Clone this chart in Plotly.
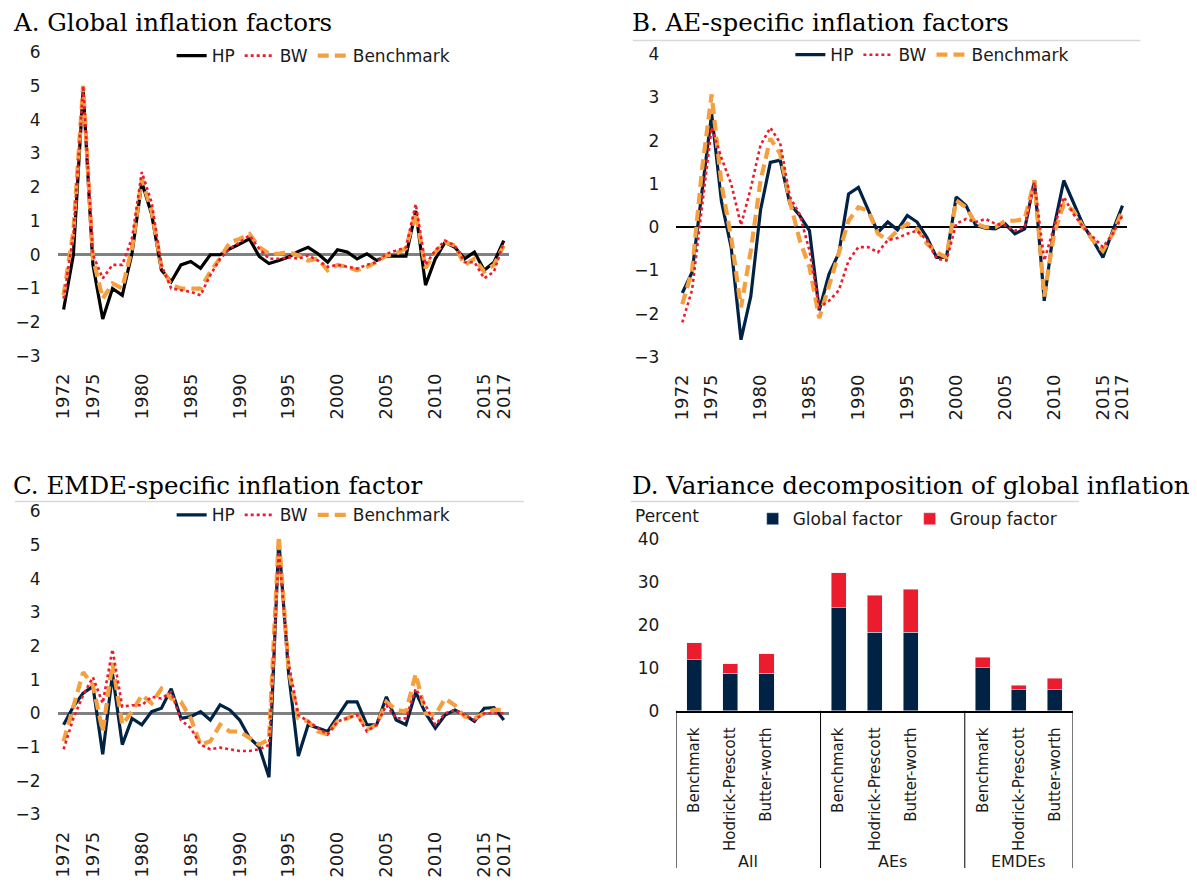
import plotly.graph_objects as go

# The page body has an 8px margin: build the figure in page pixels and shift.
OFF = 8
W, H = 1197 - 2 * OFF, 886 - 2 * OFF
def fx(px): return (px - OFF) / W
def fy(py): return 1 - (py - OFF) / H

years = list(range(1972, 2018))
year_ticks = [1972, 1975, 1980, 1985, 1990, 1995, 2000, 2005, 2010, 2015, 2017]

# Panel A: Global inflation factors
a_hp = [-1.62, 0.0, 4.9, -0.3, -1.9, -1.0, -1.2, 0.05, 2.15, 1.2,
        -0.45, -0.8, -0.3, -0.2, -0.4, 0.0, 0.0, 0.18, 0.32, 0.47,
        -0.05, -0.26, -0.17, -0.07, 0.1, 0.22, 0.03, -0.22, 0.15, 0.08,
        -0.12, 0.03, -0.17, -0.04, -0.04, -0.04, 1.3, -0.9, -0.12, 0.37,
        0.22, -0.12, 0.08, -0.46, -0.22, 0.42]
a_bw = [-1.3, 0.6, 5.0, 0.0, -0.7, -0.3, -0.3, 0.5, 2.45, 1.55,
        -0.3, -1.0, -1.05, -1.1, -1.2, -0.6, -0.12, 0.18, 0.37, 0.57,
        0.18, -0.12, -0.12, -0.07, -0.12, -0.02, -0.17, -0.36, -0.3, -0.36,
        -0.41, -0.3, -0.22, 0.03, 0.12, 0.22, 1.5, -0.3, 0.13, 0.42,
        0.27, -0.22, -0.22, -0.7, -0.5, 0.37]
a_bench = [-1.2, 0.7, 5.0, -0.1, -1.3, -0.85, -1.0, 0.2, 2.25, 1.3,
           -0.35, -0.9, -1.0, -1.0, -1.0, -0.5, -0.1, 0.37, 0.47, 0.62,
           0.22, 0.03, 0.03, 0.08, -0.02, -0.17, -0.12, -0.46, -0.3, -0.36,
           -0.46, -0.36, -0.22, -0.02, 0.03, 0.2, 1.25, -0.4, 0.08, 0.37,
           0.27, -0.3, -0.12, -0.5, -0.3, 0.27]

# Panel B: AE-specific inflation factors
b_hp = [-1.52, -1.04, 0.8, 2.62, 0.6, -0.47, -2.6, -1.6, 0.4, 1.5,
        1.55, 0.54, 0.27, -0.08, -1.92, -1.08, -0.6, 0.77, 0.92, 0.38,
        -0.12, 0.12, -0.06, 0.27, 0.12, -0.23, -0.7, -0.7, 0.7, 0.5,
        0.04, -0.02, -0.04, 0.08, -0.15, -0.04, 1.08, -1.7, 0.0, 1.08,
        0.54, 0.04, -0.31, -0.7, -0.08, 0.5]
b_bw = [-2.2, -1.45, 0.45, 2.3, 1.6, 1.0, 0.05, 0.9, 1.9, 2.3,
        1.95, 0.7, 0.3, -0.54, -1.85, -1.7, -1.46, -0.77, -0.46, -0.46,
        -0.58, -0.3, -0.25, -0.15, -0.08, -0.3, -0.73, -0.77, 0.08, 0.19,
        0.12, 0.19, 0.08, 0.04, -0.08, 0.0, 1.04, -0.77, 0.0, 0.7,
        0.3, 0.0, -0.23, -0.46, -0.15, 0.27]
b_bench = [-1.78, -1.0, 1.3, 3.07, 1.0, -0.24, -1.85, -0.55, 1.08, 2.05,
           1.7, 0.6, -0.3, -0.92, -2.1, -1.38, -0.6, 0.15, 0.46, 0.38,
           -0.15, -0.3, -0.08, 0.08, -0.04, -0.38, -0.58, -0.7, 0.62, 0.46,
           0.08, 0.0, 0.0, 0.15, 0.15, 0.19, 1.08, -1.6, -0.15, 0.54,
           0.38, 0.0, -0.31, -0.54, -0.15, 0.38]

# Panel C: EMDE-specific inflation factor
c_hp = [-0.34, 0.2, 0.6, 0.8, -1.22, 1.17, -0.93, -0.15, -0.34, 0.05,
        0.15, 0.73, -0.15, -0.1, 0.05, -0.2, 0.25, 0.1, -0.2, -0.73,
        -1.0, -1.9, 5.17, 1.2, -1.27, -0.34, -0.44, -0.54, -0.1, 0.34,
        0.34, -0.34, -0.34, 0.49, -0.2, -0.34, 0.63, 0.0, -0.44, -0.05,
        0.1, -0.05, -0.24, 0.15, 0.17, -0.2]
c_bw = [-1.07, -0.15, 0.54, 1.07, 0.3, 1.9, 0.2, 0.24, 0.24, 0.49,
        0.44, 0.63, -0.2, -0.44, -0.93, -1.07, -1.02, -1.07, -1.12, -1.12,
        -1.07, -0.94, 4.8, 1.5, -0.05, -0.24, -0.44, -0.63, -0.24, -0.15,
        -0.05, -0.54, -0.34, 0.24, -0.15, -0.15, 0.73, 0.24, -0.34, 0.0,
        0.1, -0.05, -0.2, 0.0, 0.0, 0.0]
c_bench = [-0.83, 0.24, 1.22, 0.83, -0.54, 1.5, -0.34, 0.05, 0.54, 0.3,
           0.73, 0.44, 0.34, -0.15, -0.93, -0.83, -0.34, -0.54, -0.54, -0.73,
           -0.93, -0.78, 5.27, 1.3, -0.15, -0.24, -0.54, -0.63, -0.24, -0.15,
           0.0, -0.49, -0.34, 0.34, 0.1, 0.05, 1.17, 0.0, -0.05, 0.44,
           0.24, -0.1, -0.15, 0.0, 0.1, 0.1]

# Panel D: Variance decomposition (percent)
groups = ["All", "AEs", "EMDEs"]
methods = ["Benchmark", "Hodrick-Prescott", "Butter-worth"]
global_factor = {"All": [11.8, 8.7, 8.7], "AEs": [24.0, 18.3, 18.3], "EMDEs": [10.0, 4.9, 4.9]}
group_factor = {"All": [4.0, 2.2, 4.6], "AEs": [8.1, 8.6, 9.9], "EMDEs": [2.4, 1.0, 2.6]}

NAVY = "#002345"
RED = "#EB1C2D"
ORANGE = "#F5A040"
SANS = "DejaVu Sans, sans-serif"
SERIF = "DejaVu Serif, serif"
TXT = "#1a1a1a"

fig = go.Figure()

panels = [
    ("x", "y", "legend", "black", a_hp, a_bw, a_bench),
    ("x2", "y2", "legend2", NAVY, b_hp, b_bw, b_bench),
    ("x3", "y3", "legend3", NAVY, c_hp, c_bw, c_bench),
]
for xa, ya, lg, hpcol, hp, bw, bench in panels:
    fig.add_trace(go.Scatter(x=years, y=hp, name="HP", mode="lines", xaxis=xa, yaxis=ya,
                             legend=lg, legendrank=1, line=dict(color=hpcol, width=3.2)))
    fig.add_trace(go.Scatter(x=years, y=bench, name="Benchmark", mode="lines", xaxis=xa, yaxis=ya,
                             legend=lg, legendrank=3, line=dict(color=ORANGE, width=4.2, dash="11px,6px")))
    fig.add_trace(go.Scatter(x=years, y=bw, name="BW", mode="lines", xaxis=xa, yaxis=ya,
                             legend=lg, legendrank=2, line=dict(color=RED, width=2.6, dash="dot")))

# Panel D bars: each group takes 4 slots (3 methods + one blank)
pos, gvals, rvals, tlabels = [], [], [], []
for gi, g in enumerate(groups):
    for mi, m in enumerate(methods):
        pos.append(gi * 4 + mi)
        gvals.append(global_factor[g][mi])
        rvals.append(group_factor[g][mi])
        tlabels.append(m)

fig.add_trace(go.Bar(x=pos, y=gvals, name="Global factor", marker_color=NAVY, width=0.42,
                     xaxis="x4", yaxis="y4", legend="legend4"))
fig.add_trace(go.Bar(x=pos, y=rvals, name="Group factor", marker_color=RED, width=0.42,
                     xaxis="x4", yaxis="y4", legend="legend4"))

line_x = dict(range=[1971.39, 2017.51], tickvals=year_ticks, tickangle=-90, showgrid=False,
              zeroline=False, showline=False, ticks="", ticklabelstandoff=13,
              tickfont=dict(family=SANS, size=18, color=TXT))
line_y = dict(dtick=1, showgrid=False, zeroline=True, showline=False, ticks="",
              ticklabelstandoff=16, tickfont=dict(family=SANS, size=17, color=TXT))

leg = dict(orientation="h", xanchor="left", yanchor="middle", bgcolor="rgba(0,0,0,0)",
           font=dict(family=SANS, size=17, color=TXT), itemwidth=30, tracegroupgap=0)

fig.update_layout(
    width=W, height=H, margin=dict(l=0, r=0, t=0, b=0),
    paper_bgcolor="white", plot_bgcolor="white", barmode="stack",
    xaxis=dict(domain=[fx(53), fx(508)], anchor="y", **line_x),
    yaxis=dict(domain=[fy(354), fy(43)], range=[-3, 6], anchor="x",
               zerolinecolor="#808080", zerolinewidth=2.5, **line_y),
    xaxis2=dict(domain=[fx(677), fx(1132)], anchor="y2", **line_x),
    yaxis2=dict(domain=[fy(355), fy(45)], range=[-3, 4], anchor="x2",
                zerolinecolor="black", zerolinewidth=1.5, **line_y),
    xaxis3=dict(domain=[fx(53), fx(508)], anchor="y3", **line_x),
    yaxis3=dict(domain=[fy(823), fy(513)], range=[-3, 6], anchor="x3",
                zerolinecolor="#808080", zerolinewidth=2.5, **line_y),
    xaxis4=dict(domain=[fx(677), fx(1077)], anchor="y4", range=[-0.5, 10.5],
                tickvals=pos, ticktext=tlabels, tickangle=-90, showgrid=False, zeroline=False,
                showline=True, linecolor="black", linewidth=1.5, ticks="", ticklabelstandoff=9,
                tickfont=dict(family=SANS, size=15, color=TXT)),
    yaxis4=dict(domain=[fy(717), fy(541)], range=[0, 40], dtick=10, anchor="x4",
                showgrid=False, zeroline=False, showline=False, ticks="", ticklabelstandoff=16,
                tickfont=dict(family=SANS, size=17, color=TXT)),
    legend=dict(x=fx(168), y=fy(47), **leg),
    legend2=dict(x=fx(792), y=fy(46), **leg),
    legend3=dict(x=fx(168), y=fy(517), **leg),
    legend4=dict(x=fx(754), y=fy(521), traceorder="normal", entrywidth=112, **leg),
)

# Titles
titles = [("A. Global inflation factors", 6, 13), ("B. AE-specific inflation factors", 630, 13),
          ("C. EMDE-specific inflation factor", 6, 486), ("D. Variance decomposition of global inflation", 630, 486)]
for text, x0, y0 in titles:
    fig.add_annotation(text=text, x=fx(x0), y=fy(y0), xref="paper", yref="paper",
                       xanchor="left", yanchor="middle", showarrow=False,
                       font=dict(family=SERIF, size=24.5, color="black"))

# Title separator lines
for x0, x1, y0 in [(633, 1145, 31), (10, 523, 503), (631, 1083, 503)]:
    fig.add_shape(type="line", xref="paper", yref="paper", x0=fx(x0), x1=fx(x1), y0=fy(y0), y1=fy(y0),
                  line=dict(color="#D9D9D9", width=1.5))

# Panel D group dividers and labels
for xd in [-0.5, 3.5, 7.5, 10.5]:
    fig.add_shape(type="line", xref="x4", yref="paper", x0=xd, x1=xd, y0=fy(717), y1=0,
                  line=dict(color="black", width=1))
for gi, g in enumerate(groups):
    left = gi * 4 - 0.5
    right = min(gi * 4 + 3.5, 10.5)
    fig.add_annotation(text=g, x=(left + right) / 2, y=fy(871), xref="x4", yref="paper",
                       showarrow=False, xanchor="center", yanchor="middle",
                       font=dict(family=SANS, size=16, color=TXT))

fig.add_annotation(text="Percent", x=fx(633), y=fy(518), xref="paper", yref="paper",
                   xanchor="left", yanchor="middle", showarrow=False,
                   font=dict(family=SANS, size=17, color=TXT))

fig.write_html("out.html")
